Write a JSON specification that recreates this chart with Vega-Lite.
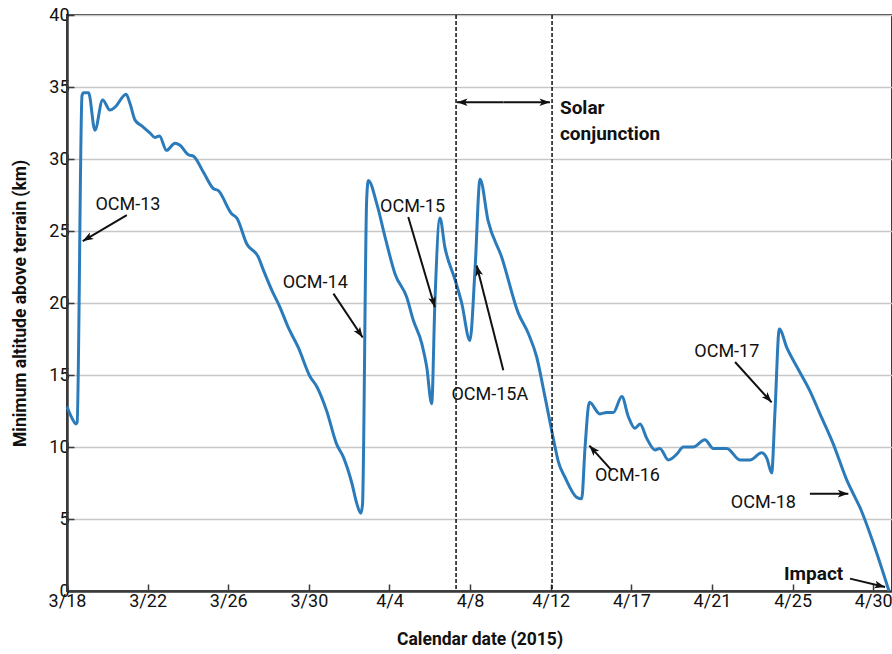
{
  "$schema": "https://vega.github.io/schema/vega-lite/v6.json",
  "width": 825,
  "height": 576,
  "autosize": "none",
  "padding": {"left": 67, "top": 15, "right": 0, "bottom": 63},
  "background": "white",
  "config": {
    "view": {"stroke": "#3a3a3a", "strokeWidth": 2},
    "axis": {
      "labelFont": "Roboto",
      "labelFontSize": 18,
      "labelColor": "#111",
      "titleFont": "Roboto",
      "titleFontWeight": "bold",
      "titleFontSize": 17.5,
      "titleColor": "#111",
      "domainColor": "#3a3a3a",
      "domainWidth": 2.5,
      "tickColor": "#3a3a3a",
      "tickWidth": 1.5,
      "tickSize": -7,
      "gridColor": "#c7c7c7",
      "gridWidth": 1.5
    }
  },
  "datasets": {
    "series": [
      {"t":0,"v":12.8},{"t":0.27,"v":12.0},{"t":0.48,"v":11.6},{"t":0.54,"v":11.7},{"t":0.8,"v":34.4},{"t":0.88,"v":34.6},{"t":1.15,"v":34.6},{"t":1.49,"v":32.0},{"t":1.9,"v":34.1},{"t":2.29,"v":33.4},{"t":2.56,"v":33.6},{"t":3.15,"v":34.5},{"t":3.36,"v":33.85},{"t":3.63,"v":32.7},{"t":3.99,"v":32.3},{"t":4.43,"v":31.8},{"t":4.69,"v":31.5},{"t":4.93,"v":31.6},{"t":5.31,"v":30.6},{"t":5.76,"v":31.1},{"t":6.03,"v":30.95},{"t":6.47,"v":30.3},{"t":6.74,"v":30.2},{"t":7.27,"v":29.1},{"t":7.8,"v":27.95},{"t":8.07,"v":27.8},{"t":8.78,"v":26.2},{"t":9.06,"v":25.9},{"t":9.59,"v":24.1},{"t":10.2,"v":23.2},{"t":10.47,"v":22.3},{"t":10.92,"v":20.9},{"t":11.36,"v":19.7},{"t":11.8,"v":18.3},{"t":12.34,"v":16.9},{"t":12.96,"v":14.9},{"t":13.32,"v":14.2},{"t":13.85,"v":12.5},{"t":14.38,"v":10.2},{"t":14.74,"v":9.3},{"t":15.19,"v":7.5},{"t":15.45,"v":6.1},{"t":15.67,"v":5.4},{"t":15.76,"v":6.0},{"t":15.98,"v":27.1},{"t":16.07,"v":28.5},
      {"t":16.52,"v":26.9},{"t":16.96,"v":24.6},{"t":17.5,"v":22.0},{"t":18.12,"v":20.4},{"t":18.47,"v":18.8},{"t":18.92,"v":17.2},{"t":19.18,"v":15.6},{"t":19.45,"v":13.0},{"t":19.62,"v":20.0},{"t":19.89,"v":25.9},{"t":20.15,"v":23.9},{"t":20.7,"v":21.6},{"t":21.05,"v":20.0},{"t":21.49,"v":17.4},{"t":21.76,"v":22.3},{"t":22.03,"v":28.6},{"t":22.46,"v":25.7},{"t":23.18,"v":23.2},{"t":24.07,"v":19.3},{"t":24.6,"v":17.9},{"t":25.05,"v":16.25},{"t":25.49,"v":13.5},{"t":26.03,"v":10.0},{"t":26.2,"v":9.0},{"t":26.56,"v":7.9},{"t":27.19,"v":6.5},{"t":27.45,"v":6.4},{"t":27.63,"v":10.0},{"t":27.86,"v":13.1},{"t":28.42,"v":12.3},{"t":28.78,"v":12.4},{"t":29.14,"v":12.4},{"t":29.59,"v":13.5},{"t":29.94,"v":12.1},{"t":30.29,"v":11.3},{"t":30.56,"v":11.6},{"t":30.92,"v":10.6},{"t":31.36,"v":9.8},{"t":31.62,"v":9.9},{"t":32.07,"v":9.1},{"t":32.52,"v":9.5},{"t":32.87,"v":10.0},{"t":33.4,"v":10.0},{"t":34.02,"v":10.5},{"t":34.47,"v":9.9},{"t":35.19,"v":9.9},{"t":35.89,"v":9.1},{"t":36.43,"v":9.1},{"t":37.05,"v":9.6},{"t":37.33,"v":9.2},{"t":37.58,"v":8.2},{"t":37.76,"v":12.5},{"t":37.99,"v":18.2},{"t":38.39,"v":16.9},{"t":39.0,"v":15.4},{"t":39.62,"v":13.9},{"t":40.16,"v":12.3},{"t":40.87,"v":10.2},{"t":41.59,"v":7.7},{"t":42.03,"v":6.5},{"t":42.29,"v":5.8},{"t":43.01,"v":3.3},{"t":43.84,"v":0.0}
    ],
    "conjunction": [{"t": 20.75}, {"t": 25.87}],
    "arrows": [
      {"name":"OCM-13","t":3.19,"v":26.1,"t2":0.84,"v2":24.3},
      {"name":"OCM-14","t":14.21,"v":20.65,"t2":15.77,"v2":17.6},
      {"name":"OCM-15","t":18.2,"v":25.97,"t2":19.62,"v2":19.7},
      {"name":"OCM-15A","t":23.27,"v":15.33,"t2":21.85,"v2":22.6},
      {"name":"OCM-16","t":29.05,"v":8.38,"t2":27.86,"v2":10.1},
      {"name":"OCM-17","t":35.63,"v":15.9,"t2":37.58,"v2":13.1},
      {"name":"OCM-18","t":39.62,"v":6.76,"t2":41.67,"v2":6.76},
      {"name":"Impact","t":41.76,"v":0.86,"t2":43.63,"v2":0.28},
      {"name":"Solar-left","t":23.28,"v":33.94,"t2":20.8,"v2":33.94},
      {"name":"Solar-right","t":23.28,"v":33.94,"t2":25.76,"v2":33.94}
    ],
    "labels": [
      {"label":"OCM-13","t":3.25,"v":26.47},
      {"label":"OCM-14","t":13.24,"v":21.07},
      {"label":"OCM-15","t":18.43,"v":26.32},
      {"label":"OCM-15A","t":22.55,"v":13.29},
      {"label":"OCM-16","t":29.89,"v":7.64},
      {"label":"OCM-17","t":35.19,"v":16.25},
      {"label":"OCM-18","t":37.14,"v":5.79}
    ],
    "impactLabel": [
      {"label":"Impact","t":39.82,"v":0.74}
    ],
    "conjLabel": [
      {"label":"Solar","t":26.29,"v":33.15},
      {"label":"conjunction","t":26.29,"v":31.35}
    ]
  },
  "layer": [
    {
      "data": {"name": "series"},
      "mark": {"type": "line", "interpolate": "monotone", "color": "#2b7bbb", "strokeWidth": 3},
      "encoding": {
        "x": {
          "field": "t", "type": "quantitative",
          "title": "Calendar date (2015)",
          "scale": {"domain": [0, 44], "nice": false, "zero": false},
          "axis": {
            "values": [0, 4.3, 8.6, 12.9, 17.2, 21.5, 25.8, 30.1, 34.4, 38.7, 43],
            "labelExpr": "datum.value < 1 ? '3/18' : datum.value < 5 ? '3/22' : datum.value < 9 ? '3/26' : datum.value < 13 ? '3/30' : datum.value < 18 ? '4/4' : datum.value < 22 ? '4/8' : datum.value < 26 ? '4/12' : datum.value < 31 ? '4/17' : datum.value < 35 ? '4/21' : datum.value < 39 ? '4/25' : '4/30'",
            "grid": false,
            "labelPadding": 8,
            "titlePadding": 20,
            "labelFlush": false,
            "labelOverlap": false
          }
        },
        "y": {
          "field": "v", "type": "quantitative",
          "title": "Minimum altitude above terrain (km)",
          "scale": {"domain": [0, 40], "nice": false},
          "axis": {
            "values": [0, 5, 10, 15, 20, 25, 30, 35, 40],
            "grid": true,
            "labelPadding": 5,
            "titlePadding": 19,
            "labelFlush": false
          }
        }
      }
    },
    {
      "data": {"name": "conjunction"},
      "mark": {"type": "rule", "color": "#111", "strokeWidth": 1.5, "strokeDash": [4, 2]},
      "encoding": {
        "x": {"field": "t", "type": "quantitative", "title": "Calendar date (2015)"}
      }
    },
    {
      "data": {"name": "arrows"},
      "mark": {"type": "rule", "color": "#111", "strokeWidth": 2},
      "encoding": {
        "x": {"field": "t", "type": "quantitative", "title": "Calendar date (2015)"},
        "y": {"field": "v", "type": "quantitative", "title": "Minimum altitude above terrain (km)"},
        "x2": {"field": "t2"},
        "y2": {"field": "v2"}
      }
    },
    {
      "data": {"name": "arrows"},
      "transform": [
        {"calculate": "atan2((datum.t2 - datum.t) * 18.75, (datum.v2 - datum.v) * 14.4) * 180 / PI", "as": "heading"}
      ],
      "mark": {"type": "point", "shape": "M0,0 L0.55,1.5 L0,1.15 L-0.55,1.5 Z", "filled": true, "color": "#111", "opacity": 1, "size": 196},
      "encoding": {
        "x": {"field": "t2", "type": "quantitative", "title": "Calendar date (2015)"},
        "y": {"field": "v2", "type": "quantitative", "title": "Minimum altitude above terrain (km)"},
        "angle": {"field": "heading", "type": "quantitative", "scale": null}
      }
    },
    {
      "data": {"name": "labels"},
      "mark": {"type": "text", "font": "Roboto", "fontSize": 18, "color": "#111", "baseline": "alphabetic", "align": "center"},
      "encoding": {
        "x": {"field": "t", "type": "quantitative", "title": "Calendar date (2015)"},
        "y": {"field": "v", "type": "quantitative", "title": "Minimum altitude above terrain (km)"},
        "text": {"field": "label"}
      }
    },
    {
      "data": {"name": "impactLabel"},
      "mark": {"type": "text", "font": "Roboto", "fontSize": 19, "fontWeight": "bold", "color": "#111", "baseline": "alphabetic", "align": "center"},
      "encoding": {
        "x": {"field": "t", "type": "quantitative", "title": "Calendar date (2015)"},
        "y": {"field": "v", "type": "quantitative", "title": "Minimum altitude above terrain (km)"},
        "text": {"field": "label"}
      }
    },
    {
      "data": {"name": "conjLabel"},
      "mark": {"type": "text", "font": "Roboto", "fontSize": 19, "fontWeight": "bold", "color": "#111", "baseline": "alphabetic", "align": "left"},
      "encoding": {
        "x": {"field": "t", "type": "quantitative", "title": "Calendar date (2015)"},
        "y": {"field": "v", "type": "quantitative", "title": "Minimum altitude above terrain (km)"},
        "text": {"field": "label"}
      }
    }
  ]
}
